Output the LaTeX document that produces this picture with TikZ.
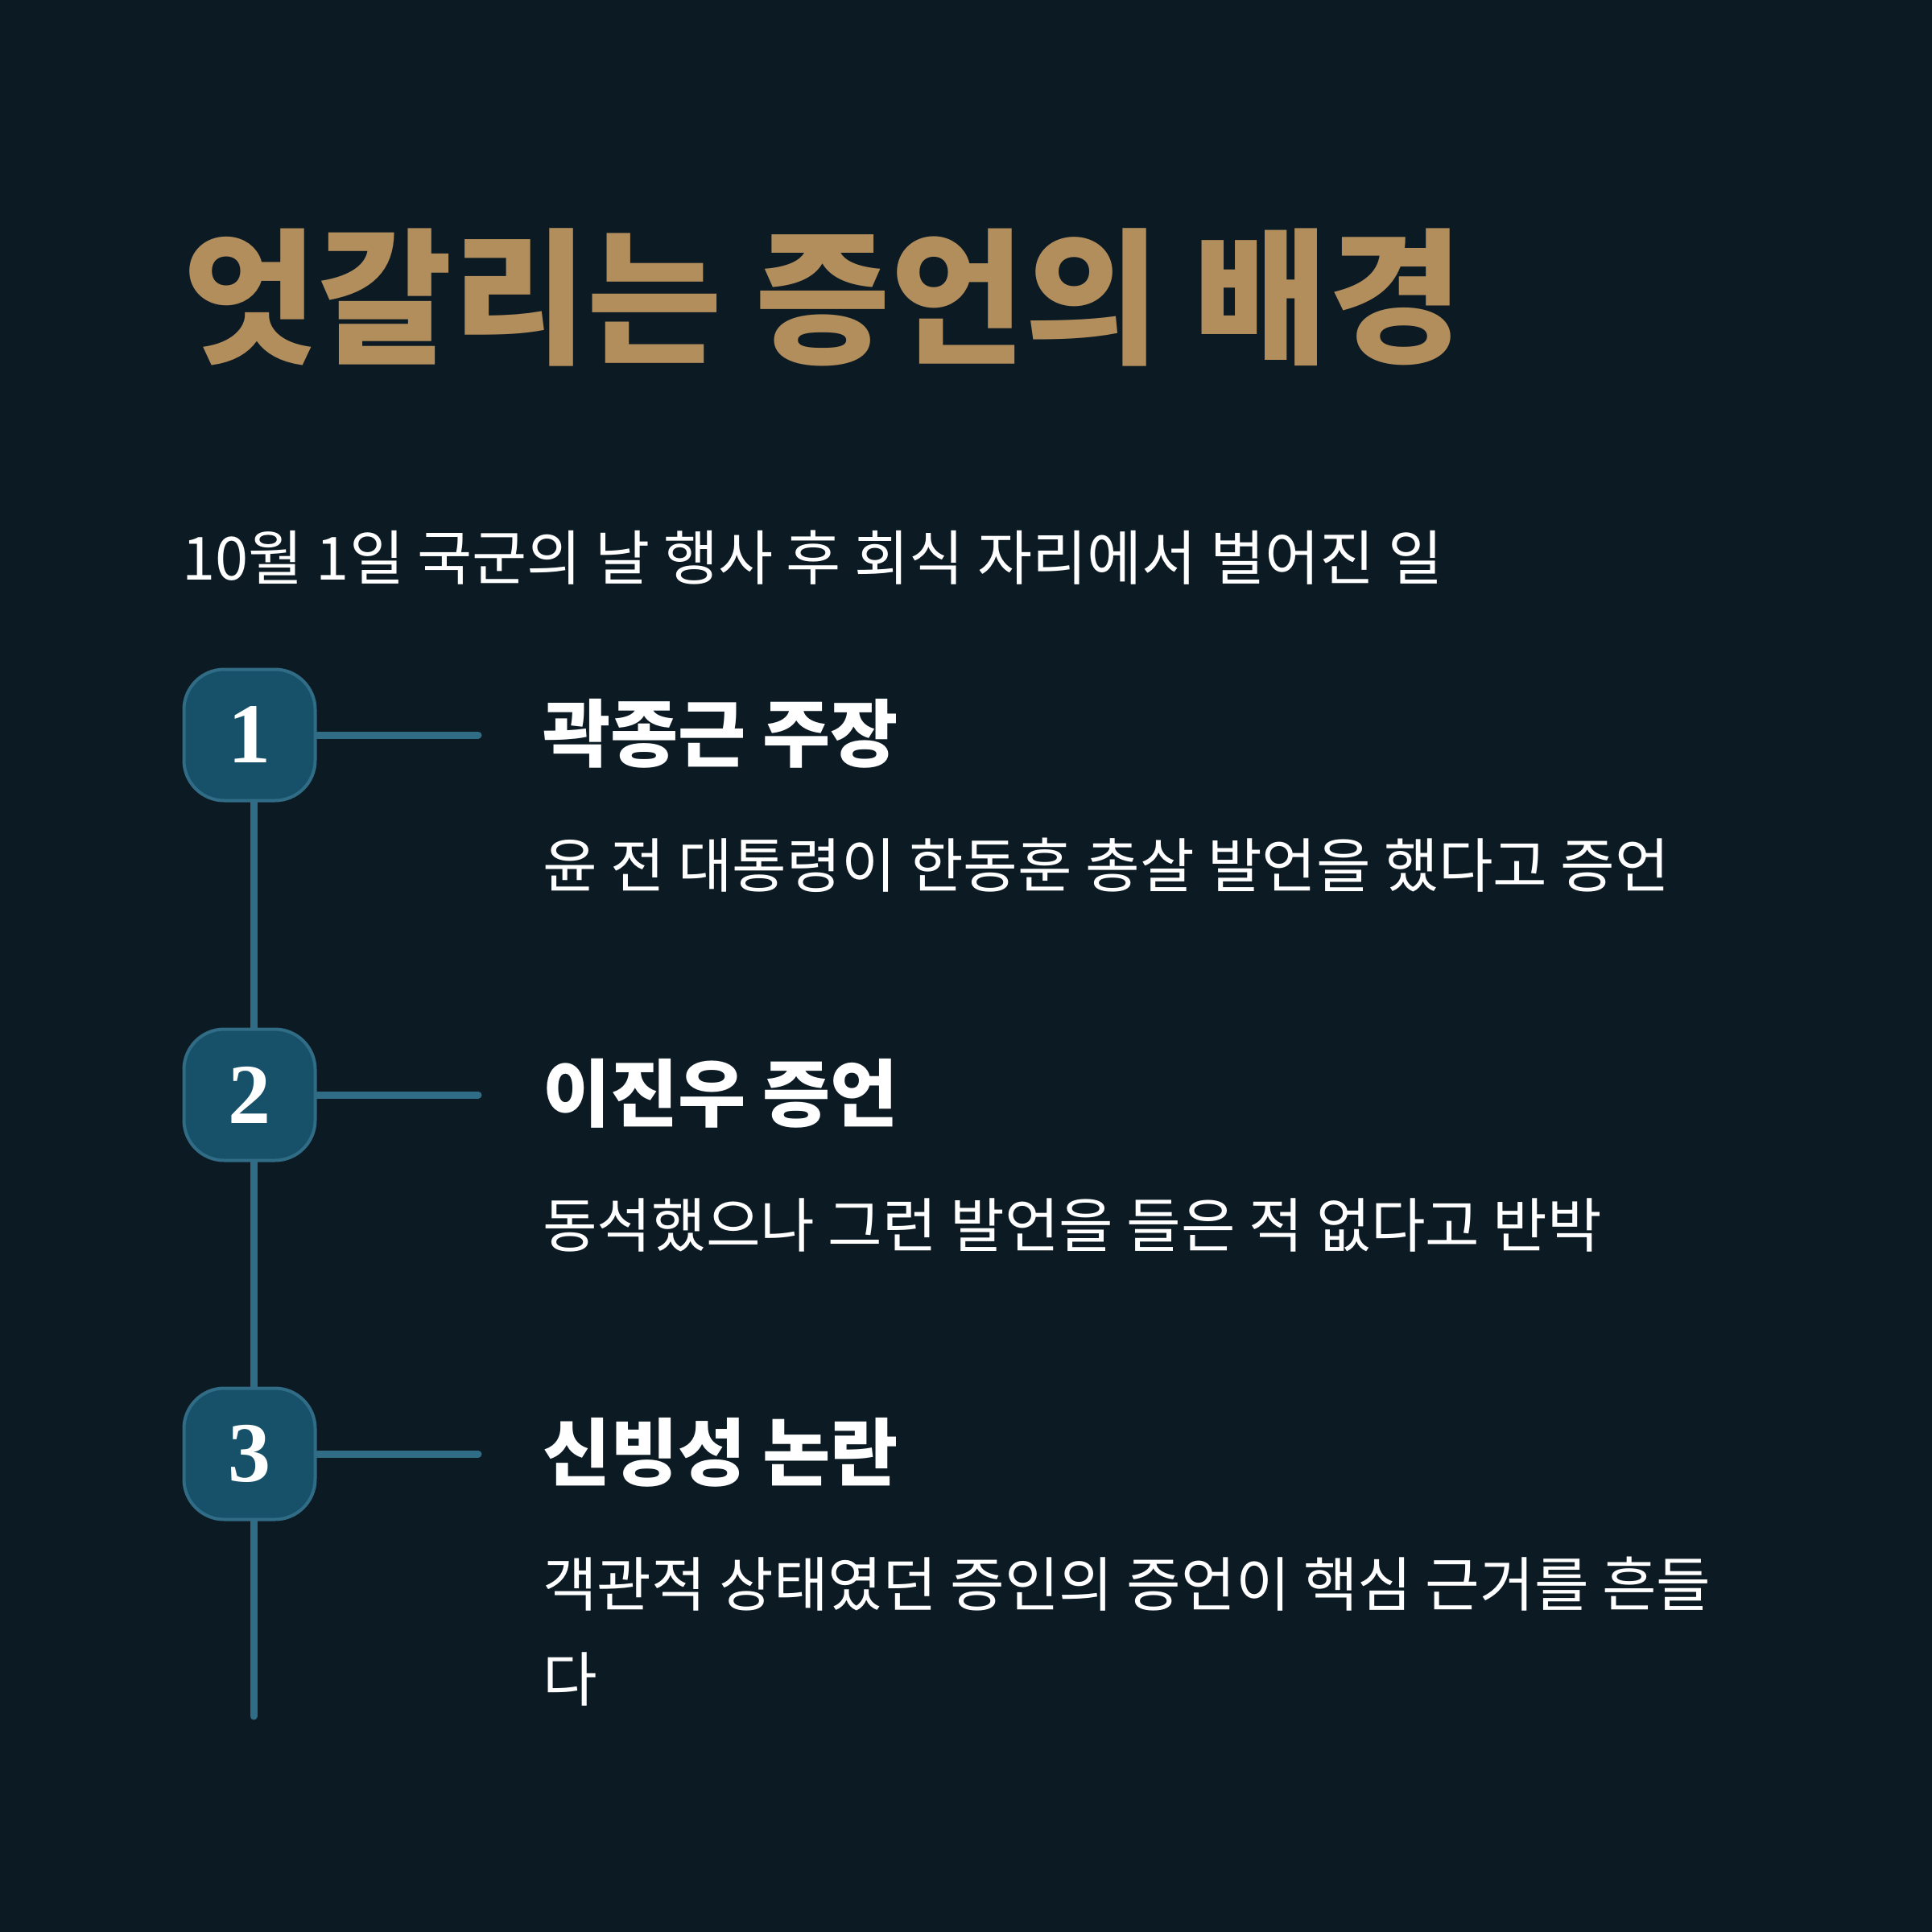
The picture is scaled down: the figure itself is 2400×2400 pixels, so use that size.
\documentclass[tikz,border=0pt]{standalone}
\usepackage{fontspec}
\newfontfamily\kr{Noto Sans CJK KR}
\newfontfamily\numfont{Liberation Serif}
\definecolor{bgc}{HTML}{0C1A23}
\definecolor{goldc}{HTML}{B38E5D}
\definecolor{badgefill}{HTML}{175169}
\definecolor{linec}{HTML}{316C86}
\tikzset{
  titletxt/.style={anchor=west, inner sep=0pt, text=goldc, font=\kr\bfseries\fontsize{182}{182}\selectfont},
  subtxt/.style={anchor=west, inner sep=0pt, text=white, font=\kr\fontsize{74}{74}\selectfont},
  headtxt/.style={anchor=west, inner sep=0pt, text=white, font=\kr\bfseries\fontsize{91.5}{91.5}\selectfont},
  desctxt/.style={anchor=west, inner sep=0pt, text=white, align=left, font=\kr\fontsize{73.5}{118}\selectfont},
  badge/.style={rectangle, rounded corners=50pt, minimum size=163pt, inner sep=0pt, fill=badgefill, draw=linec, line width=4pt, text=white, font=\numfont\bfseries\fontsize{106}{106}\selectfont},
  conn/.style={draw=linec, line width=9pt, line cap=round}
}
\begin{document}
\begin{tikzpicture}[x=1pt,y=-1pt]
\fill[bgc] (0,0) rectangle (2400,2400);
\useasboundingbox (0,0) rectangle (2400,2400);

\node[titletxt] (title) at (227,369) {엇갈리는 증언의 배경};
\node[subtxt] (sub) at (226,693) {10월 1일 국군의 날 행사 후 회식 자리에서 벌어진 일};

\coordinate (h1) at (594,913);
\coordinate (h2) at (594,1360);
\coordinate (h3) at (594,1806);
\coordinate (vend) at (315,2132);

% invisible anchors for the connectors, drawn behind the badges
\node[badge, draw=none, fill=none, text opacity=0] (p1) at (310,913) {};
\node[badge, draw=none, fill=none, text opacity=0] (p2) at (310,1360) {};
\node[badge, draw=none, fill=none, text opacity=0] (p3) at (310,1806) {};
\draw[conn] ([xshift=5pt]p1.center) -- ([xshift=5pt]p2.center);
\draw[conn] ([xshift=5pt]p2.center) -- ([xshift=5pt]p3.center);
\draw[conn] ([xshift=5pt]p3.center) -- (vend);

\draw[conn] (p1.center) -- (h1);
\draw[conn] (p2.center) -- (h2);
\draw[conn] (p3.center) -- (h3);

\node[badge] (b1) at (310,913) {1};
\node[badge] (b2) at (310,1360) {2};
\node[badge] (b3) at (310,1806) {3};

\node[headtxt] (t1) at (674,911) {곽종근 주장};
\node[desctxt] (d1) at (674,1075) {윤 전 대통령이 한동훈 총살 발언을 했다고 증언};
\node[headtxt] (t2) at (674,1358) {이진우 증언};
\node[desctxt] (d2) at (674,1522) {동석했으나 그런 발언을 들은 적 없다고 반박};
\node[headtxt] (t3) at (674,1804) {신빙성 논란};
\node[desctxt] (d3) at (674,2027) {객관적 상태였던 증인의 증언이 핵심 근거를 흔들\\다};
\end{tikzpicture}
\end{document}
